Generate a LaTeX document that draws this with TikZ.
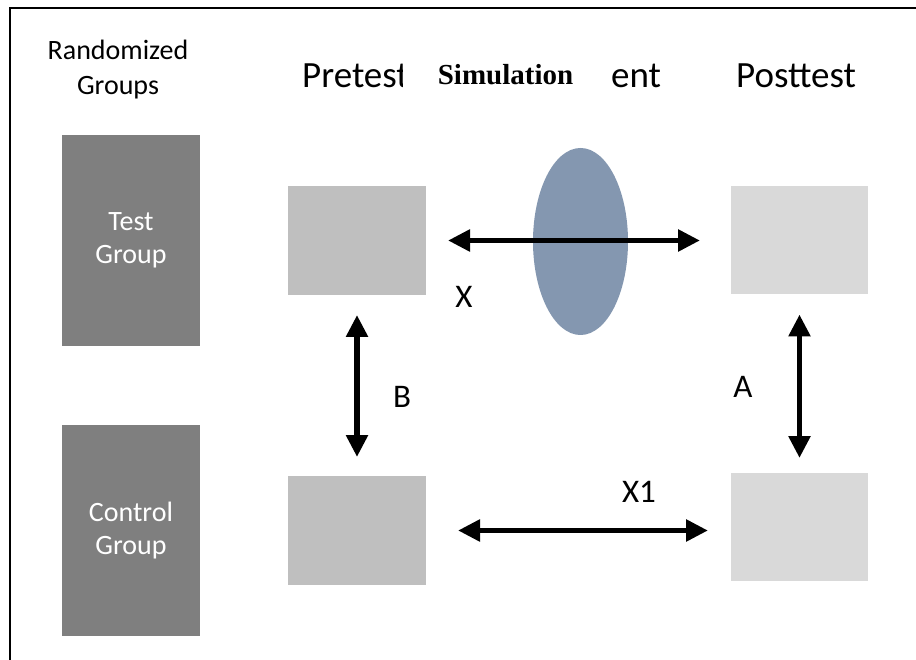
\documentclass[tikz,border=0pt]{standalone}
\usepackage{fontspec}
\setmainfont{Carlito}
\newfontfamily\simfont{Liberation Serif}
\usetikzlibrary{shapes,arrows.meta,positioning}
\definecolor{grpgray}{HTML}{7F7F7F}
\definecolor{pregray}{HTML}{BFBFBF}
\definecolor{postgray}{HTML}{D9D9D9}
\definecolor{treatblue}{HTML}{8497B0}
\newcommand{\hdfont}{\fontsize{37}{44}\selectfont}
\newcommand{\rgfont}{\fontsize{28}{35}\selectfont}
\newcommand{\grpfont}{\fontsize{28}{33}\selectfont}
\newcommand{\lblfont}{\fontsize{33}{38}\selectfont}
\tikzset{
    grpbox/.style={rectangle,fill=grpgray,text=white,minimum width=138pt,
                   minimum height=211pt,inner sep=0pt,outer sep=0pt,
                   align=center,font=\grpfont},
    prebox/.style={rectangle,fill=pregray,minimum width=138pt,
                   minimum height=109pt,inner sep=0pt,outer sep=0pt},
    postbox/.style={rectangle,fill=postgray,minimum width=137pt,
                    minimum height=108pt,inner sep=0pt,outer sep=0pt},
    head/.style={anchor=base west,inner sep=0pt,font=\hdfont},
    lbl/.style={inner sep=0pt,font=\lblfont},
    dblarrow/.style={{Triangle[length=22pt,width=21pt]}-{Triangle[length=22pt,width=21pt]},
                     line width=5.5pt},
}
\begin{document}
\begin{tikzpicture}[x=1pt,y=-1pt]
    \useasboundingbox (0,0) rectangle (916,660);

    % ---- frame ----
    \draw[line width=2.5pt] (916,8) -- (10,8) -- (10,660);

    % ---- groups ----
    \node[grpbox] (test) at (131,240.5) {Test\\Group};
    \node[grpbox, below=79pt of test] (control) {Control\\Group};

    % ---- pretest / posttest ----
    \node[prebox, right=88pt of test] (pre1) {};
    \node[prebox, right=88pt of control] (pre2) {};
    \node[postbox, right=305pt of pre1] (post1) {};
    \node[postbox, right=305pt of pre2, yshift=3.5pt] (post2) {};

    % ---- treatment ----
    \node[ellipse,fill=treatblue,minimum width=95pt,minimum height=187pt,
          inner sep=0pt] (treat) at (580.5,241.5) {};

    % ---- headings ----
    \node[align=center,font=\rgfont] (rg) at (118,70) {Randomized\\Groups};
    \node[head] (pretest) at (302,88) {Pretest};
    \node[fill=white,minimum width=206pt,minimum height=44pt,inner sep=0pt,
          font=\simfont\bfseries\fontsize{29}{34}\selectfont] (sim) at (505.5,75) {Simulation};
    \node[head] (ent) at (611,88) {ent};
    \node[head] (posttest) at (736,88) {Posttest};

    % ---- arrows ----
    \draw[dblarrow, shorten <=22pt, shorten >=31pt] (pre1.east) -- (post1.west);
    \draw[dblarrow, shorten <=32pt, shorten >=23pt] (pre2.east) -- (pre2.east -| post2.west);
    \draw[dblarrow, shorten <=20pt, shorten >=19pt] (pre1.south) -- (pre2.north);
    \draw[dblarrow, shorten <=20pt, shorten >=15pt] (post1.south) -- (post2.north);

    % ---- labels ----
    \node[lbl] (lx)  at (464,297) {X};
    \node[lbl] (lb)  at (402,397) {B};
    \node[lbl] (la)  at (743,387) {A};
    \node[lbl] (lx1) at (639,492) {X1};

\end{tikzpicture}
\end{document}
